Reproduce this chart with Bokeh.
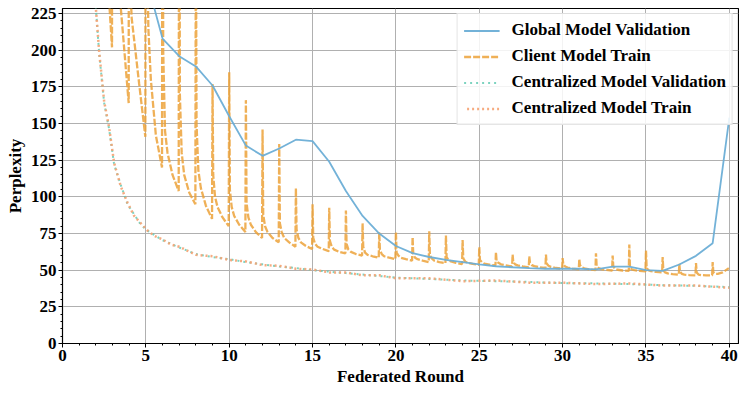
from bokeh.plotting import figure
from bokeh.models import FixedTicker, Range1d, Legend, LegendItem
from bokeh.embed import file_html
from bokeh.resources import INLINE

# ---------------- data ----------------
global_rounds = list(range(1, 41))
global_val = [1500, 900, 600, 400, 250, 208, 196, 189, 176, 155,
              135, 128, 133, 139, 138, 124, 104, 87, 75, 66.5,
              61.6, 59, 57, 55.5, 54, 52.7, 52, 51.4, 51, 51,
              51, 50.5, 52.5, 52.5, 50, 49.5, 53.9, 59.8, 68.4, 154]

client_rounds = list(range(1, 40))
client_phase = [0.0, 0.04, 0.15, 0.3, 0.6, 0.97]
client_train = [
    [1500, 900, 700, 600, 500, 420],
    [1000, 500, 400, 330, 270, 202],
    [800, 400, 300, 255, 215, 164],
    [600, 250, 222, 207, 177, 141],
    [600, 300, 215, 180, 142, 120],
    [500, 200, 145, 130, 115, 104],
    [450, 170, 130, 115, 103, 95],
    [300, 150, 118, 106, 94, 85],
    [177, 115, 100, 93, 86, 80],
    [185, 105, 93, 87, 81, 76],
    [166, 96, 86, 81, 76, 72],
    [146, 88, 80, 76, 72, 69],
    [136, 82, 76, 72, 69, 66],
    [106, 78, 72, 69, 66.5, 64.5],
    [95, 72, 68, 66, 64.5, 63],
    [92.5, 70, 66, 64, 62.5, 61.5],
    [90.7, 68, 64, 62.5, 61, 60],
    [82, 66, 62, 60.5, 59.5, 58.5],
    [76, 64, 61, 59.5, 58.5, 57.5],
    [76, 62, 60, 58.5, 57.5, 56.5],
    [72.5, 61, 58.5, 57.5, 56.5, 55.5],
    [76.6, 60, 58, 56.5, 55.5, 54.8],
    [73.7, 59, 57, 56, 55, 54.2],
    [70.5, 58, 56, 55, 54.3, 53.7],
    [65.7, 57, 55.5, 54.5, 53.8, 53.2],
    [62.3, 56, 55, 54, 53.2, 52.6],
    [60.7, 55.5, 54, 53.3, 52.6, 52],
    [59.5, 55, 53.5, 52.8, 52, 51.5],
    [60.7, 54.5, 53, 52.3, 51.5, 51],
    [58.2, 54, 52.5, 51.8, 51, 50.5],
    [57.7, 53.5, 52, 51.3, 50.5, 50],
    [61.6, 53, 51.5, 50.8, 50.2, 49.8],
    [60, 52.5, 51, 50.3, 49.8, 49.5],
    [67.5, 52, 50.5, 50, 49.5, 49.2],
    [63.4, 51.5, 50, 49.3, 48.8, 48.5],
    [59, 50, 48.5, 47.8, 47.3, 47],
    [54.3, 49, 47.5, 47, 46.7, 46.5],
    [54.8, 48.5, 47, 46.7, 46.5, 46.5],
    [55.5, 48.5, 47.5, 47.5, 48.5, 51.4],
]

cent_x = [1.9, 2.0, 2.2, 2.5, 2.8, 3.1, 3.5, 3.9, 4.3, 4.7, 5.1, 5.5, 6.0, 6.5,
          7.0, 8.0, 9.0, 10, 11, 12, 13, 14, 15, 16, 17, 18, 19, 20, 22, 24,
          26, 28, 30, 32, 34, 36, 38, 40]
cent_val = [250, 229, 198, 164, 146, 122, 108, 95, 88, 81, 77, 74, 70.5, 68,
            65.5, 61, 59, 57.5, 55.5, 54, 52.5, 51.5, 50, 49, 48, 47, 46, 45,
            44, 43, 42.5, 42, 41.2, 41, 40.5, 39.8, 39.3, 38.5]
cent_train = [250, 229, 199, 165, 147, 123, 107, 96, 87, 82, 77, 73.5, 71, 67.5,
              66, 60.5, 59.5, 57, 56, 53.5, 53, 51, 50.5, 48.5, 48.5, 46.5, 46.5, 44.5,
              44.5, 42.5, 43, 41.5, 41.5, 40.5, 41, 39.5, 39.5, 38]

x_ticks = [0, 5, 10, 15, 20, 25, 30, 35, 40]
x_minor = list(range(0, 41))
y_ticks = [0, 25, 50, 75, 100, 125, 150, 175, 200, 225]
y_minor = list(range(0, 230, 5))

# -------------- build ---------------
client_x = []
client_y = []
for r, vals in zip(client_rounds, client_train):
    for ph, v in zip(client_phase, vals):
        client_x.append(r + ph)
        client_y.append(v)

FONT = "Liberation Serif"

p = figure(frame_width=676, frame_height=335, output_backend="svg",
           toolbar_location=None,
           x_range=Range1d(0, 40.55), y_range=Range1d(0, 228.5),
           min_border_left=62, min_border_right=1, min_border_top=8,
           min_border_bottom=30)

p.background_fill_color = "white"
p.outline_line_color = "black"
p.outline_line_width = 1.2

for ax in (p.xaxis, p.yaxis):
    ax.axis_line_color = "black"
    ax.axis_line_width = 1.0
    ax.major_tick_line_color = "black"
    ax.minor_tick_line_color = "black"
    ax.major_tick_in = 0
    ax.major_tick_out = 4
    ax.minor_tick_in = 0
    ax.minor_tick_out = 2
    ax.major_label_text_font = FONT
    ax.major_label_text_font_style = "bold"
    ax.major_label_text_font_size = "17px"
    ax.major_label_text_color = "black"
    ax.axis_label_text_font = FONT
    ax.axis_label_text_font_style = "bold"
    ax.axis_label_text_font_size = "17px"
    ax.axis_label_text_color = "black"
    ax.major_label_standoff = 2
    ax.axis_label_standoff = 3

p.xaxis.ticker = FixedTicker(ticks=x_ticks, minor_ticks=x_minor)
p.yaxis.ticker = FixedTicker(ticks=y_ticks, minor_ticks=y_minor)
p.xaxis.axis_label = "Federated Round"
p.yaxis.axis_label = "Perplexity"

p.xgrid.grid_line_color = "#b0b0b0"
p.ygrid.grid_line_color = "#b0b0b0"
p.xgrid.grid_line_width = 1
p.ygrid.grid_line_width = 1

r_cv = p.line(cent_x, cent_val, line_color="#5cc8b0", line_width=2,
              line_alpha=0.8, line_dash="2 4")
r_ct = p.line(cent_x, cent_train, line_color="#f5a272", line_width=2.5,
              line_alpha=0.9, line_dash="2 3", line_dash_offset=2)
r_ctr = p.line(client_x, client_y, line_color="#eca23a", line_width=2.3,
               line_alpha=0.85, line_dash="7 2")
r_gv = p.line(global_rounds, global_val, line_color="#6baed6", line_width=1.8,
              line_alpha=0.95)

legend = Legend(items=[
    LegendItem(label="Global Model Validation", renderers=[r_gv]),
    LegendItem(label="Client Model Train", renderers=[r_ctr]),
    LegendItem(label="Centralized Model Validation", renderers=[r_cv]),
    LegendItem(label="Centralized Model Train", renderers=[r_ct]),
], location="top_right")
legend.label_text_font = FONT
legend.label_text_font_style = "bold"
legend.label_text_font_size = "17px"
legend.label_text_color = "black"
legend.glyph_width = 36
legend.glyph_height = 17
legend.label_height = 17
legend.label_standoff = 12
legend.spacing = 6
legend.padding = 6
legend.margin = 5
legend.border_line_color = "#cccccc"
legend.border_line_width = 1
legend.background_fill_alpha = 0.85
p.add_layout(legend)

open("out.html", "w").write(file_html(p, INLINE))
